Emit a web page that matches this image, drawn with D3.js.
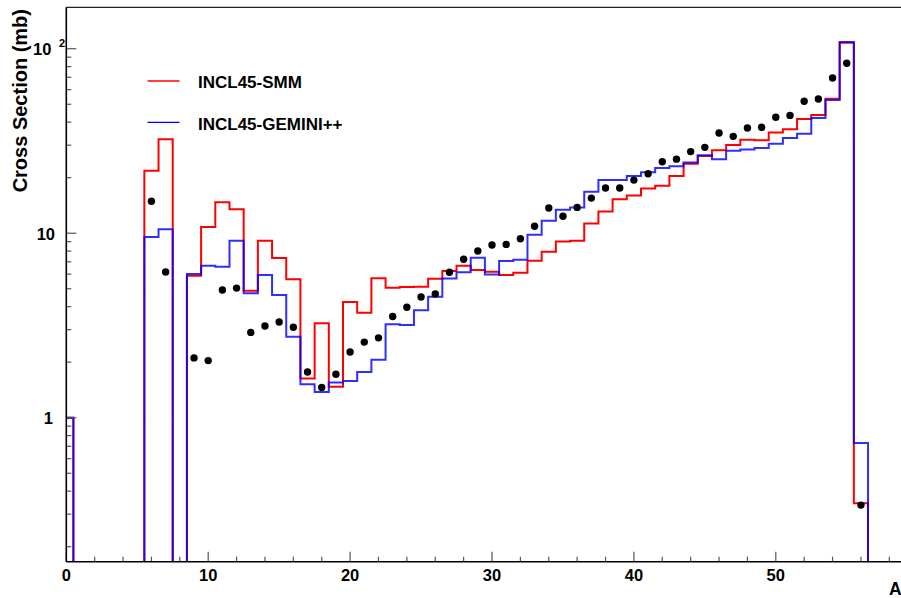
<!DOCTYPE html>
<html>
<head>
<meta charset="utf-8">
<script src="https://cdn.jsdelivr.net/npm/d3@7"></script>
<style>
    body { margin: 0; background: #fff; }
    svg { display: block; font-family: "Liberation Sans", Arial, sans-serif; font-weight: bold; }
</style>
</head>
<body>
<svg id="chart" width="901" height="598"></svg>
<script>
// mass number A of each bin (bin width 1, centred on A)
const massA = d3.range(0, 57);

// INCL45-SMM, cross section per bin (mb), 0 = empty bin
const smmValues = [1, 0, 0, 0, 0, 0, 21.8, 32.3, 0, 5.88, 10.8, 14.7, 13.5, 4.88, 9.1, 7.34, 5.63, 1.63, 3.25, 1.47,
    4.24, 3.71, 5.7, 5.07, 5.11, 5.13, 5.67, 6.24, 6.67, 6.31, 6.19, 5.93, 6.11, 7.1, 7.94, 9.03, 9.1, 11.3, 13.1, 15.3,
    16.0, 17.5, 18.1, 20.4, 23.8, 26.2, 28.2, 30.1, 32.1, 31.9, 35.1, 36.6, 41.6, 43.7, 53.6, 107.8, 0.344];

// INCL45-GEMINI++
const geminiValues = [1, 0, 0, 0, 0, 0, 9.54, 10.5, 0, 6.01, 6.67, 6.58, 9.1, 4.73, 5.94, 4.62, 2.75, 1.52, 1.38, 1.55,
    1.58, 1.77, 2.06, 3.21, 3.18, 3.82, 4.53, 5.69, 6.14, 7.36, 5.98, 7.07, 7.18, 9.82, 11.7, 13.4, 13.8, 16.8, 19.4, 19.4,
    20.4, 21.4, 22.6, 23.1, 24.2, 26.5, 25.2, 28.0, 28.4, 29.0, 30.5, 32.8, 34.6, 42.1, 52.7, 108.7, 0.729];

// measured data points
const dataA = [6, 7, 9, 10, 11, 12, 13, 14, 15, 16, 17, 18, 19, 20, 21, 22, 23, 24, 25, 26, 27, 28, 29, 30, 31,
    32, 33, 34, 35, 36, 37, 38, 39, 40, 41, 42, 43, 44, 45, 46, 47, 48, 49, 50, 51, 52, 53, 54, 55, 56];
const dataValues = [14.9, 6.16, 2.11, 2.04, 4.92, 5.04, 2.9, 3.14, 3.3, 3.09, 1.77, 1.46, 1.72, 2.27, 2.57, 2.71,
    3.54, 3.97, 4.51, 4.68, 6.14, 7.22, 8.01, 8.63, 8.7, 9.33, 10.9, 13.7, 12.35, 13.8, 15.5, 17.6, 17.6, 19.4, 21.0,
    24.4, 25.2, 27.7, 29.2, 34.9, 33.5, 37.2, 37.5, 42.5, 43.5, 51.9, 53.4, 69.4, 83.4, 0.336];

const xTicks = [0, 10, 20, 30, 40, 50];
const yTicks = [1, 10, 100];
const legendNames = ["INCL45-SMM", "INCL45-GEMINI++"];
const colors = ["#ff0000", "#0000ff"];

const plotLeft = 66.3, plotRight = 917.7, plotTop = 7.3, plotBottom = 561.7;

let svg = d3.select("#chart");

let x = d3.scaleLinear()
    .domain([0, 60])
    .range([plotLeft, plotRight]);
let y = d3.scaleLog()
    .domain([0.1658, 167.7])
    .range([plotBottom, plotTop]);

svg.append("defs").append("clipPath")
    .attr("id", "plotArea")
    .append("rect")
    .attr("x", plotLeft)
    .attr("y", plotTop)
    .attr("width", plotRight - plotLeft)
    .attr("height", plotBottom - plotTop);

// frame
svg.append("line")
    .attr("x1", plotLeft).attr("x2", plotRight)
    .attr("y1", plotTop).attr("y2", plotTop)
    .attr("stroke", "#222")
    .attr("stroke-width", 1.2);

// histograms
function stepPoints(values) {
    let pts = [[massA[0] - 0.5, 0]];
    massA.forEach((a, i) => pts.push([a - 0.5, values[i]]));
    let last = massA[massA.length - 1];
    pts.push([last + 0.5, values[values.length - 1]]);
    pts.push([last + 0.5, 0]);
    return pts;
}
// empty bins drop just below the frame so the outline hides behind the axis
let line = d3.line()
    .x(d => x(d[0]))
    .y(d => d[1] > 0 ? y(d[1]) : plotBottom + 3)
    .curve(d3.curveStepAfter);

let plot = svg.append("g")
    .attr("clip-path", "url(#plotArea)");

[smmValues, geminiValues].forEach((vals, i) => {
    plot.append("path")
        .attr("d", line(stepPoints(vals)))
        .attr("fill", "none")
        .attr("stroke", colors[i])
        .attr("stroke-opacity", i === 1 ? 0.82 : 1)
        .attr("stroke-width", 2);
});

plot.selectAll("circle.point")
    .data(dataA)
    .join("circle")
    .attr("class", "point")
    .attr("cx", d => x(d))
    .attr("cy", (d, i) => y(dataValues[i]))
    .attr("r", 3.7)
    .attr("fill", "#000");

// x axis
let xMinor = d3.range(0, 60, 2).filter(d => !xTicks.includes(d));
svg.append("g")
    .selectAll("line")
    .data(xTicks.concat(xMinor))
    .join("line")
    .attr("x1", d => x(d)).attr("x2", d => x(d))
    .attr("y1", plotBottom)
    .attr("y2", d => xTicks.includes(d) ? plotBottom - 10 : plotBottom - 5)
    .attr("stroke", "#555")
    .attr("stroke-width", 1.2);
svg.append("line")
    .attr("x1", plotLeft).attr("x2", plotRight)
    .attr("y1", plotBottom).attr("y2", plotBottom)
    .attr("stroke", "#000")
    .attr("stroke-width", 1.6);
svg.append("g")
    .selectAll("text")
    .data(xTicks)
    .join("text")
    .attr("x", d => x(d))
    .attr("y", 581)
    .attr("text-anchor", "middle")
    .style("font-size", "16.5px")
    .text(d => d);
svg.append("text")
    .attr("x", 889)
    .attr("y", 595)
    .style("font-size", "17.5px")
    .text("A");

// y axis
let yMinor = [];
[0.1, 1, 10, 100].forEach(dec => {
    d3.range(2, 10).forEach(m => {
        let v = dec * m;
        if (v > 0.1658 && v < 167.7) yMinor.push(v);
    });
});
svg.append("g")
    .selectAll("line")
    .data(yTicks.concat(yMinor))
    .join("line")
    .attr("x1", plotLeft)
    .attr("x2", d => yTicks.includes(d) ? plotLeft + 10 : plotLeft + 5)
    .attr("y1", d => y(d)).attr("y2", d => y(d))
    .attr("stroke", "#555")
    .attr("stroke-width", 1.2);
svg.append("line")
    .attr("x1", plotLeft).attr("x2", plotLeft)
    .attr("y1", plotTop).attr("y2", plotBottom)
    .attr("stroke", "#000")
    .attr("stroke-width", 1.6);

svg.append("text")
    .attr("x", 53).attr("y", y(1) + 6.5)
    .attr("text-anchor", "end")
    .style("font-size", "16.5px")
    .text("1");
svg.append("text")
    .attr("x", 55).attr("y", y(10) + 6.5)
    .attr("text-anchor", "end")
    .style("font-size", "16.5px")
    .text("10");
let hundred = svg.append("text")
    .attr("x", 33).attr("y", y(100) + 6.5)
    .style("font-size", "16.5px");
hundred.append("tspan").text("10");
hundred.append("tspan")
    .attr("x", 59)
    .attr("dy", -8)
    .style("font-size", "11px")
    .text("2");

svg.append("text")
    .attr("transform", "translate(27,9) rotate(-90)")
    .attr("text-anchor", "end")
    .style("font-size", "20px")
    .text("Cross Section (mb)");

// legend
let legend = svg.append("g")
    .selectAll("g")
    .data(legendNames)
    .join("g")
    .attr("transform", (d, i) => "translate(0," + (81 + i * 41.3) + ")");
legend.append("line")
    .attr("x1", 147.5).attr("x2", 179.5)
    .attr("stroke", (d, i) => colors[i])
    .attr("stroke-width", 1.3);
legend.append("text")
    .attr("x", 198)
    .attr("y", 7.3)
    .style("font-size", "17px")
    .text(d => d);
</script>
</body>
</html>
